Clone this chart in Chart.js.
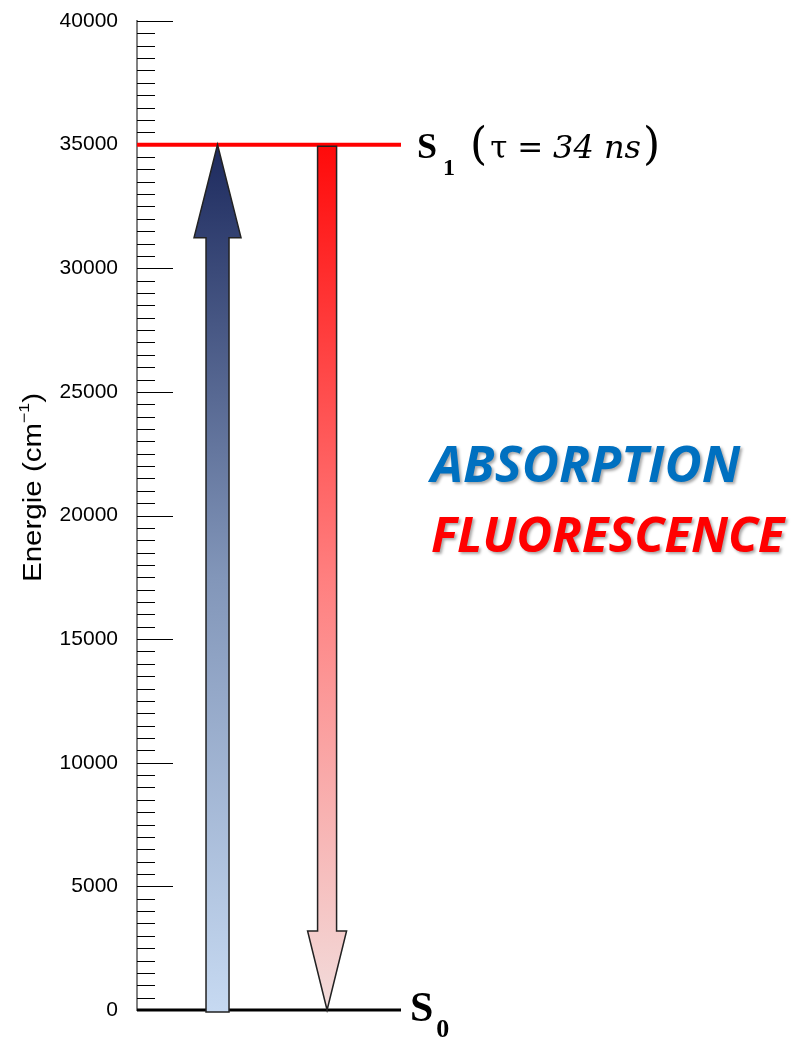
<!DOCTYPE html>
<html>
<head>
<meta charset="utf-8">
<title>Diagramme de Jablonski</title>
<script src="https://cdn.jsdelivr.net/npm/chart.js@4.4.1/dist/chart.umd.min.js"></script>
<style>
  body { margin: 0; background: #fff; }
  #wrap { width: 796px; height: 1039px; }
</style>
</head>
<body>
<div id="wrap"><canvas id="diagram" width="796" height="1039"></canvas></div>
<script>
// energy levels (cm-1)
const levelNames = ['S0', 'S1'];
const levelEnergies = [0, 35000];
const s1Lifetime = '34 ns';

// transitions: position on the hidden x axis, start / end energy
const transitionNames = ['ABSORPTION', 'FLUORESCENCE'];
const transitionX = [0.305, 0.72];
const transitionFrom = [0, 34850];
const transitionTo = [35000, 0];

// energy axis
const energyMin = 0;
const energyMax = 40000;
const majorStep = 5000;
const minorStep = 500;

// drawing styles
const levelColors = ['#000000', '#ff0000'];
const levelWidths = [3, 4];
const arrowStyle = [
  { shaft: 11.5, head: 23.5, headLen: 93, stops: ['#c6d9f1', '#8296b9', '#1d2a5e'] },
  { shaft: 9.5, head: 19.5, headLen: 79, stops: ['#f2dcdb', '#ff7f7f', '#ff0a0a'] }
];
const labelColors = ['#0070c0', '#ff0000'];

const energyTicks = [];
for (let v = energyMin; v <= energyMax; v += minorStep) energyTicks.push(v);

const datasets = levelEnergies.map((e, i) => ({
  label: levelNames[i],
  data: [{ x: 0, y: e }, { x: 1, y: e }],
  borderColor: levelColors[i],
  borderWidth: levelWidths[i],
  pointRadius: 0,
  clip: false
}));

// draws text pieces one after the other, returns the end x
function drawRun(ctx, pieces, x, y) {
  pieces.forEach(p => {
    ctx.font = p.font;
    ctx.fillText(p.text, x, y + (p.dy || 0));
    x += ctx.measureText(p.text).width + (p.gap || 0);
  });
  return x;
}

const diagramPlugin = {
  id: 'diagram',
  beforeDatasetsDraw(chart) {
    // tick marks point into the plot
    const ctx = chart.ctx;
    const y = chart.scales.y;
    const left = chart.chartArea.left;
    ctx.save();
    ctx.strokeStyle = '#000';
    ctx.lineWidth = 1;
    energyTicks.forEach(v => {
      const py = Math.round(y.getPixelForValue(v)) + 0.5;
      const len = v % majorStep === 0 ? 36 : 18;
      ctx.beginPath();
      ctx.moveTo(left, py);
      ctx.lineTo(left + len, py);
      ctx.stroke();
    });
    ctx.restore();
  },
  afterDatasetsDraw(chart) {
    const ctx = chart.ctx;
    const xs = chart.scales.x;
    const ys = chart.scales.y;
    const area = chart.chartArea;

    // transition arrows
    transitionX.forEach((tx, i) => {
      const st = arrowStyle[i];
      const cx = xs.getPixelForValue(tx);
      const yFrom = ys.getPixelForValue(transitionFrom[i]);
      const yTo = ys.getPixelForValue(transitionTo[i]);
      const dir = yTo < yFrom ? -1 : 1;
      const yBase = yTo - dir * st.headLen;
      const yEnd = yFrom - dir * 2;
      const yLow = ys.getPixelForValue(energyMin);
      const yHigh = ys.getPixelForValue(levelEnergies[1]);
      const g = ctx.createLinearGradient(0, yLow, 0, yHigh);
      g.addColorStop(0, st.stops[0]);
      g.addColorStop(0.5, st.stops[1]);
      g.addColorStop(1, st.stops[2]);
      ctx.save();
      ctx.beginPath();
      ctx.moveTo(cx - st.shaft, yEnd);
      ctx.lineTo(cx - st.shaft, yBase);
      ctx.lineTo(cx - st.head, yBase);
      ctx.lineTo(cx, yTo);
      ctx.lineTo(cx + st.head, yBase);
      ctx.lineTo(cx + st.shaft, yBase);
      ctx.lineTo(cx + st.shaft, yEnd);
      ctx.closePath();
      ctx.fillStyle = g;
      ctx.fill();
      ctx.lineWidth = 1.5;
      ctx.strokeStyle = '#222';
      ctx.lineJoin = 'miter';
      ctx.stroke();
      ctx.restore();
    });

    // level labels
    ctx.save();
    ctx.fillStyle = '#000';
    ctx.textBaseline = 'alphabetic';
    ctx.textAlign = 'left';
    const y1 = ys.getPixelForValue(levelEnergies[1]);
    drawRun(ctx, [
      { text: 'S', font: 'bold 36px "Liberation Serif"', gap: 6 },
      { text: '1', font: 'bold 24px "Liberation Serif"', dy: 17, gap: 15 },
      { text: '(', font: '44px "DejaVu Serif"', dy: 1, gap: 3 },
      { text: 'τ = ', font: '31px "DejaVu Serif"', gap: 0 },
      { text: s1Lifetime, font: 'italic 32px "DejaVu Serif"', gap: 2 },
      { text: ')', font: '44px "DejaVu Serif"', dy: 1 }
    ], area.right + 16, y1 + 13);

    const y0 = ys.getPixelForValue(levelEnergies[0]);
    drawRun(ctx, [
      { text: 'S', font: 'bold 42px "Liberation Serif"', gap: 3 },
      { text: '0', font: 'bold 26px "Liberation Serif"', dy: 16 }
    ], area.right + 9, y0 + 11);
    ctx.restore();

    // transition names
    ctx.save();
    ctx.shadowColor = 'rgba(0,0,0,0.35)';
    ctx.shadowOffsetX = 2;
    ctx.shadowOffsetY = 2;
    ctx.shadowBlur = 3;
    const nameSizes = [51, 49];
    transitionNames.forEach((name, i) => {
      ctx.font = 'italic bold ' + nameSizes[i] + 'px "Open Sans"';
      ctx.fillStyle = labelColors[i];
      ctx.fillText(name, 431, 482 + i * 70);
    });
    ctx.restore();

    // axis title
    ctx.save();
    ctx.translate(41, 582);
    ctx.rotate(-Math.PI / 2);
    ctx.scale(1.18, 1);
    ctx.fillStyle = '#000';
    ctx.textBaseline = 'alphabetic';
    drawRun(ctx, [
      { text: 'Energie (cm', font: '25px "Liberation Sans"' },
      { text: '\u22121', font: '15px "Liberation Sans"', dy: -12 },
      { text: ')', font: '25px "Liberation Sans"' }
    ], 0, 0);
    ctx.restore();
  }
};

new Chart(document.getElementById('diagram'), {
  type: 'line',
  data: { datasets: datasets },
  options: {
    responsive: false,
    animation: false,
    layout: { padding: { left: 0, top: 21, right: 395, bottom: 29 } },
    plugins: { legend: { display: false }, tooltip: { enabled: false } },
    scales: {
      x: { type: 'linear', min: 0, max: 1, display: false },
      y: {
        type: 'linear',
        min: energyMin,
        max: energyMax,
        afterBuildTicks: scale => { scale.ticks = energyTicks.map(v => ({ value: v })); },
        afterFit: scale => {
          scale.width = 137;
          scale.paddingTop = 0;
          scale.paddingBottom = 0;
        },
        grid: { display: false, drawTicks: false },
        border: { display: true, color: '#808080', width: 2 },
        ticks: {
          autoSkip: false,
          padding: 19,
          color: '#000',
          font: { family: 'Liberation Sans', size: 21 },
          callback: v => (v % majorStep === 0 ? String(v) : '')
        }
      }
    }
  },
  plugins: [diagramPlugin]
});
</script>
</body>
</html>
